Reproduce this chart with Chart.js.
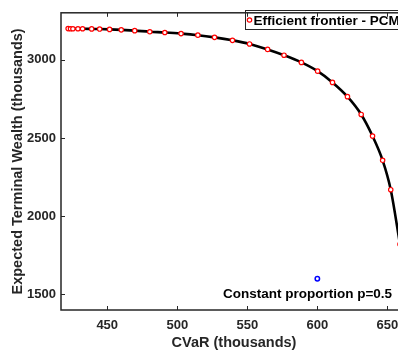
<!DOCTYPE html>
<html>
<head>
<meta charset="utf-8">
<script src="https://cdn.jsdelivr.net/npm/chart.js@4.4.0/dist/chart.umd.min.js"></script>
<style>
  html, body { margin: 0; padding: 0; background: #fff; overflow: hidden; }
  #wrap { width: 420px; height: 358px; }
</style>
</head>
<body>
<div id="wrap"><canvas id="chart" width="420" height="358"></canvas></div>
<script>
// Efficient frontier points (CVaR, expected terminal wealth), both in thousands
const frontierCVaR = [422.1, 423.8, 425.5, 429.1, 432.4, 438.9, 444.6, 451.7, 460.0, 469.6,
  480.4, 491.1, 502.7, 514.7, 526.6, 539.4, 551.6, 564.5, 576.2, 588.6,
  600.2, 610.8, 621.5, 631.3, 639.4, 646.6, 652.4, 659.0];
const frontierWealth = [3199, 3198, 3198, 3198, 3198, 3197, 3196, 3194, 3191, 3186,
  3179, 3174, 3167, 3157, 3143, 3124, 3101, 3066, 3029, 2983,
  2927, 2855, 2764, 2650, 2512, 2357, 2169, 1820];

// constant proportion strategy
const constCVaR = [600];
const constWealth = [1600];

const xTicks = [450, 500, 550, 600, 650];
const yTicks = [1500, 2000, 2500, 3000];

const FONT = "'Liberation Sans', Arial, Helvetica, sans-serif";
const INK = '#262626';

const frontierPts = frontierCVaR.map((x, i) => ({ x: x, y: frontierWealth[i] }));
const constPts = constCVaR.map((x, i) => ({ x: x, y: constWealth[i] }));

// box + inward ticks like MATLAB axes
const framePlugin = {
  id: 'frame',
  afterDraw(chart) {
    const ctx = chart.ctx;
    const { left, right, top, bottom } = chart.chartArea;
    const xs = chart.scales.x, ys = chart.scales.y;
    ctx.save();
    ctx.strokeStyle = INK;
    ctx.lineWidth = 1.5;
    ctx.strokeRect(left, top, right - left, bottom - top);
    ctx.lineWidth = 1;
    xTicks.forEach(v => {
      const px = Math.round(xs.getPixelForValue(v)) + 0.5;
      ctx.beginPath();
      ctx.moveTo(px, bottom); ctx.lineTo(px, bottom - 4);
      ctx.moveTo(px, top); ctx.lineTo(px, top + 4);
      ctx.stroke();
    });
    yTicks.forEach(v => {
      const py = Math.round(ys.getPixelForValue(v)) + 0.5;
      ctx.beginPath();
      ctx.moveTo(left, py); ctx.lineTo(left + 4, py);
      ctx.moveTo(right, py); ctx.lineTo(right - 4, py);
      ctx.stroke();
    });
    ctx.restore();
  }
};

// legend box and the text label for the constant proportion point
const notesPlugin = {
  id: 'notes',
  afterDatasetsDraw(chart) {
    const ctx = chart.ctx;
    ctx.save();
    // legend
    ctx.fillStyle = '#fff';
    ctx.fillRect(245, 10, 165, 19);
    ctx.strokeStyle = INK;
    ctx.lineWidth = 1;
    ctx.strokeRect(245.5, 10.5, 165, 19);
    ctx.beginPath();
    ctx.arc(249.5, 20, 2.2, 0, Math.PI * 2);
    ctx.strokeStyle = '#ff0000';
    ctx.lineWidth = 1.2;
    ctx.stroke();
    ctx.fillStyle = '#000';
    ctx.font = 'bold 13.5px ' + FONT;
    ctx.textBaseline = 'alphabetic';
    ctx.textAlign = 'left';
    ctx.fillText('Efficient frontier - PCMC', 253.5, 25);
    // annotation
    ctx.fillText('Constant proportion p=0.5', 223, 298);
    ctx.restore();
  }
};

new Chart(document.getElementById('chart'), {
  type: 'scatter',
  data: {
    datasets: [
      {
        label: 'Efficient frontier - PCMC',
        data: frontierPts,
        showLine: false,
        pointStyle: 'circle',
        pointRadius: 2.2,
        pointBorderWidth: 1.2,
        pointBorderColor: '#ff0000',
        pointBackgroundColor: '#ffffff',
        order: 1
      },
      {
        label: 'frontier curve',
        data: frontierPts,
        showLine: true,
        pointRadius: 0,
        borderColor: '#000000',
        borderWidth: 2.6,
        cubicInterpolationMode: 'monotone',
        order: 2
      },
      {
        label: 'Constant proportion p=0.5',
        data: constPts,
        showLine: false,
        pointRadius: 2.2,
        pointBorderWidth: 1.5,
        pointBorderColor: '#0000ff',
        pointBackgroundColor: '#ffffff',
        order: 0
      }
    ]
  },
  options: {
    responsive: false,
    animation: false,
    devicePixelRatio: 1,
    layout: { padding: { top: 4, right: 13, left: 0, bottom: 0 } },
    plugins: {
      legend: { display: false },
      tooltip: { enabled: false }
    },
    scales: {
      x: {
        type: 'linear',
        min: 417,
        max: 664,
        afterFit: s => { s.height = 48; },
        afterBuildTicks: s => { s.ticks = xTicks.map(v => ({ value: v })); },
        grid: { display: false, drawTicks: false },
        border: { display: false },
        ticks: {
          padding: 8,
          color: INK,
          callback: v => String(v),
          font: { family: FONT, size: 13, weight: 'bold' }
        },
        title: {
          display: true,
          text: 'CVaR (thousands)',
          color: INK,
          padding: { top: 0, bottom: 6 },
          font: { family: FONT, size: 14.5, weight: 'bold' }
        }
      },
      y: {
        type: 'linear',
        min: 1400,
        max: 3300,
        afterFit: s => { s.width = 61; },
        afterBuildTicks: s => { s.ticks = yTicks.map(v => ({ value: v })); },
        grid: { display: false, drawTicks: false },
        border: { display: false },
        ticks: {
          padding: 5,
          color: INK,
          callback: v => String(v),
          font: { family: FONT, size: 13, weight: 'bold' }
        },
        title: {
          display: true,
          text: 'Expected Terminal Wealth (thousands)',
          color: INK,
          padding: { top: 9, bottom: 0 },
          font: { family: FONT, size: 14.5, weight: 'bold' }
        }
      }
    }
  },
  plugins: [framePlugin, notesPlugin]
});
</script>
</body>
</html>
